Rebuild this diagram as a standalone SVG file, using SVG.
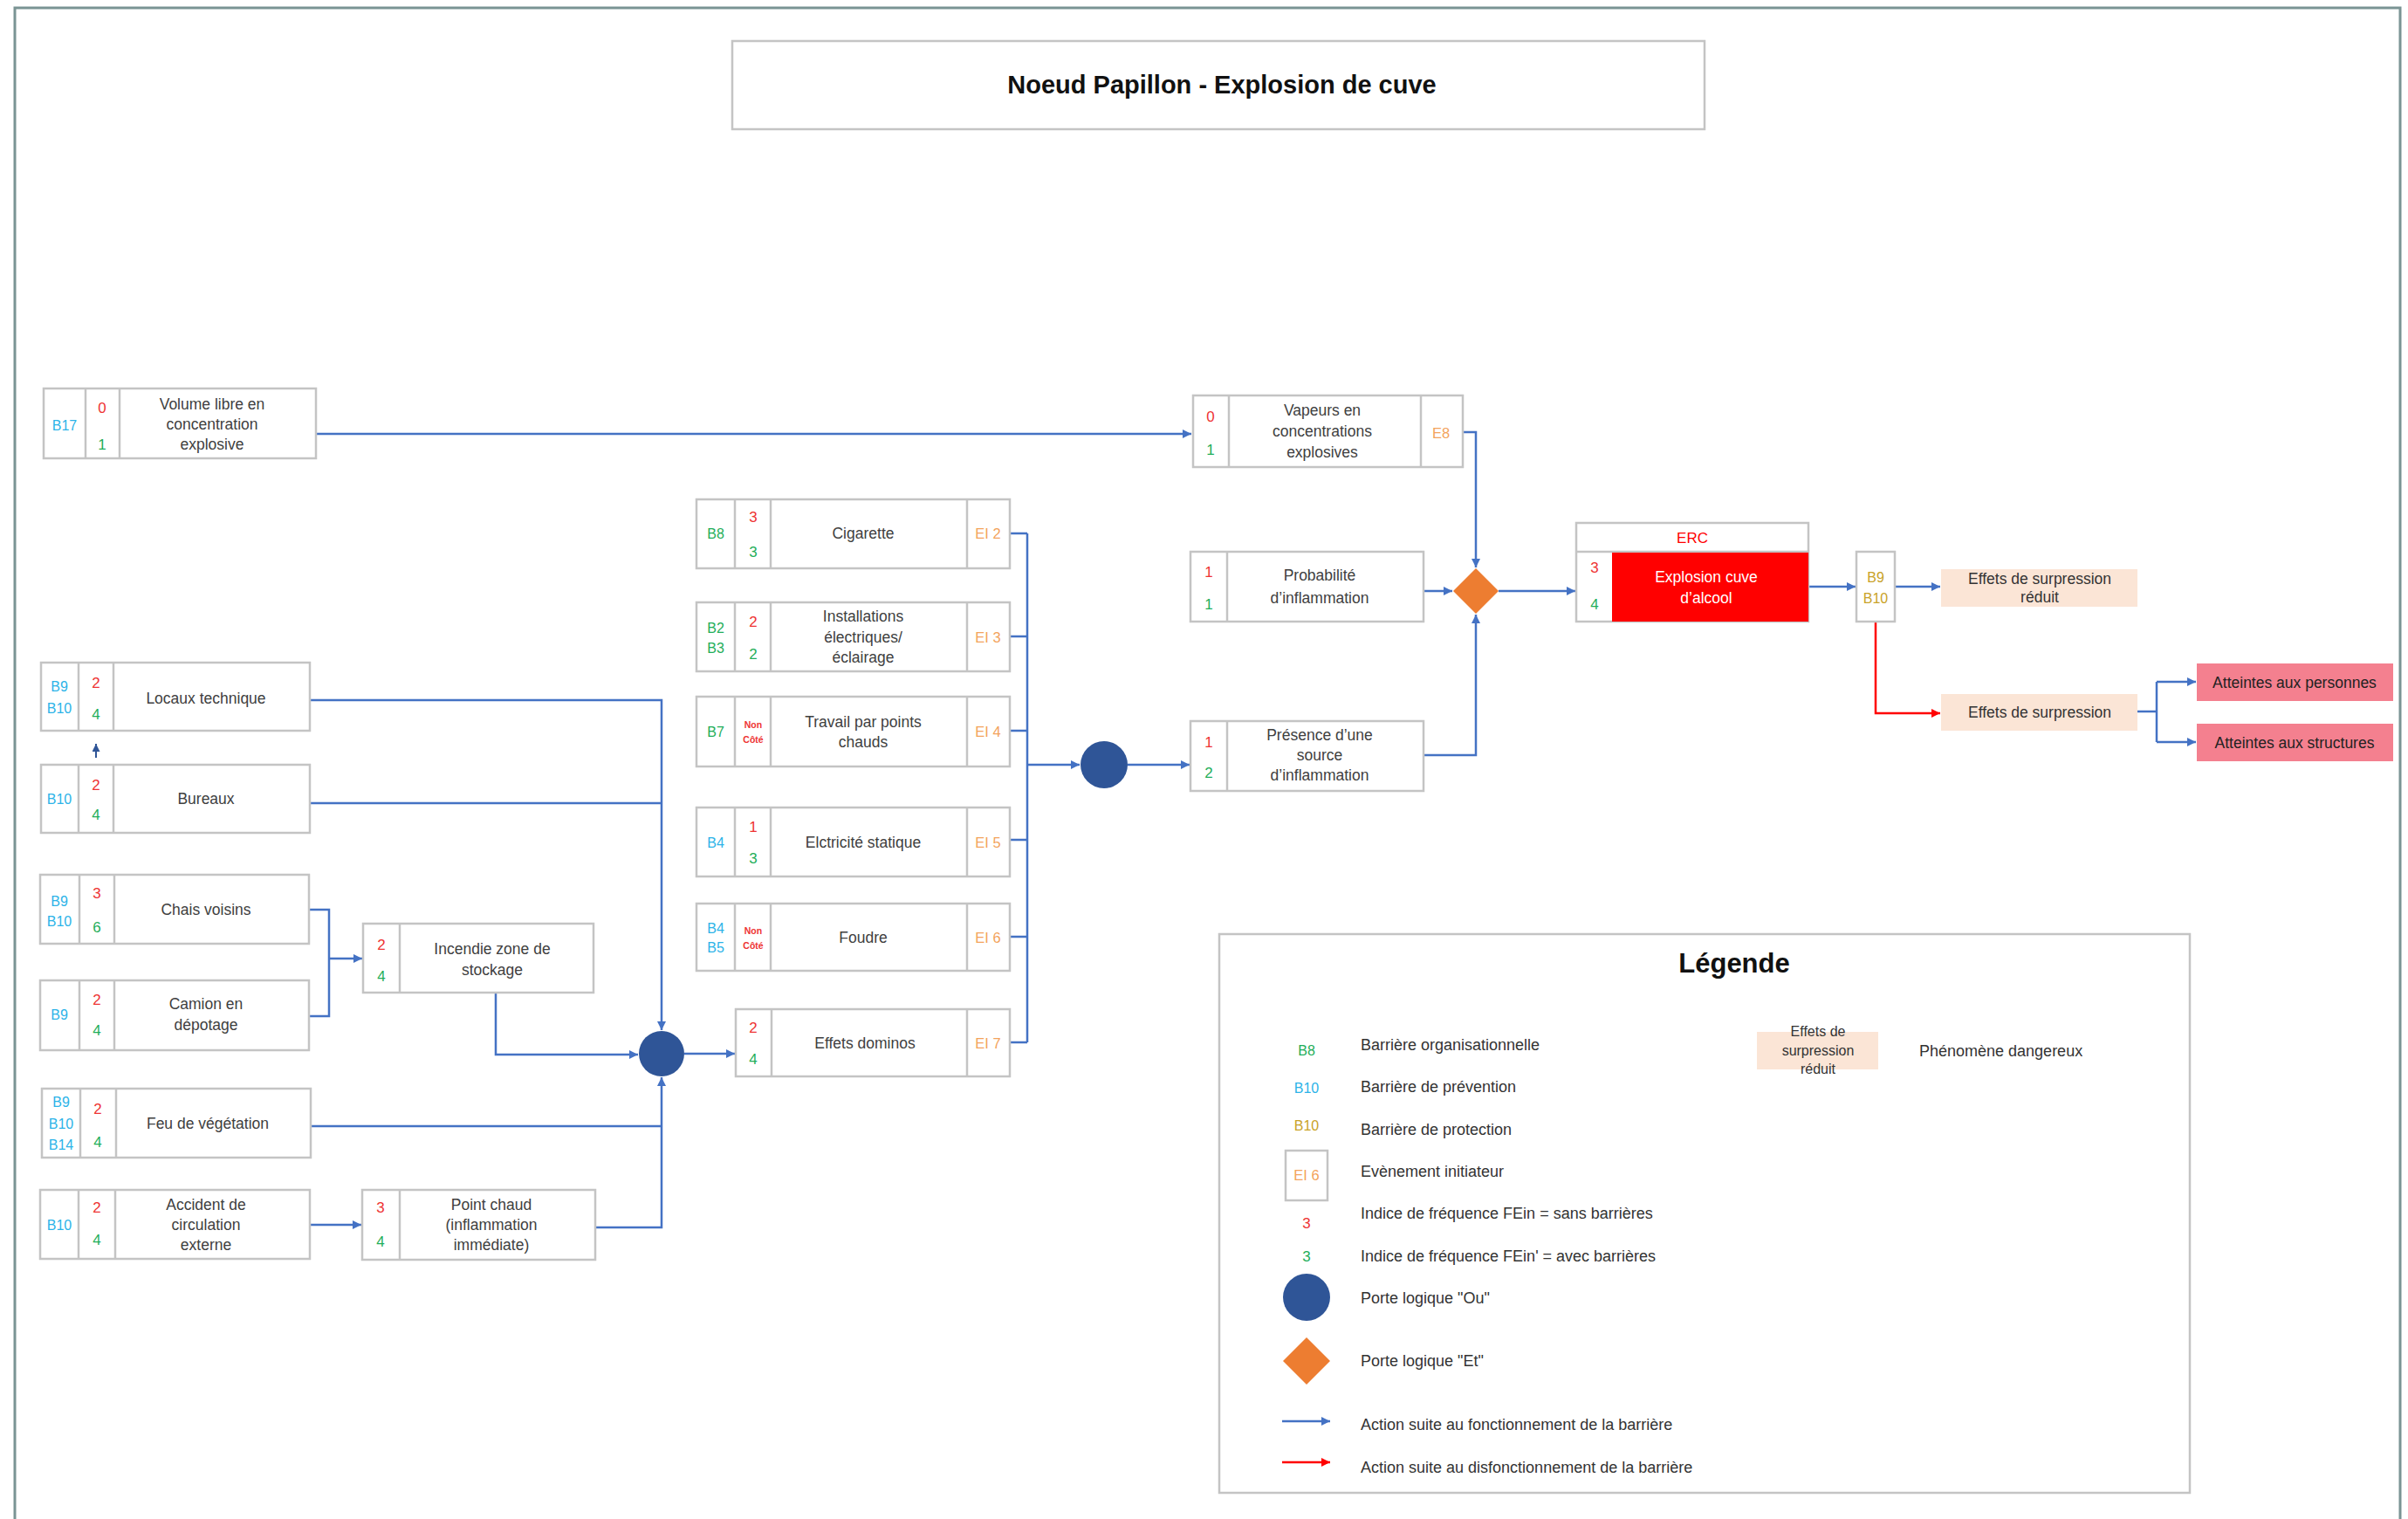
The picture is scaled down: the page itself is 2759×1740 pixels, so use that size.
<svg xmlns="http://www.w3.org/2000/svg" width="2759" height="1740" viewBox="0 0 2759 1740">
<defs>
<style>
text{font-family:"Liberation Sans",Arial,sans-serif;dominant-baseline:central;text-anchor:middle}
.box{fill:#fff;stroke:#c4c4c4;stroke-width:2.5}
.div{stroke:#c4c4c4;stroke-width:2.5}
.lbl{font-size:17.5px;fill:#404040}
.num{font-size:17px}
.red{fill:#ee3333}
.grn{fill:#1fae5a}
.blu{fill:#2cb3e8}
.og{fill:#1fae5a}
.gold{fill:#c9a227}
.ei{font-size:16.5px;fill:#f3a35c}
.bar{font-size:16px}
.nc{font-size:10.5px;font-weight:bold;fill:#ee3333}
.con{fill:none;stroke:#4472c4;stroke-width:2.5}
.conr{fill:none;stroke:#ff0000;stroke-width:2.5}
.or{fill:#2f5597}
.and{fill:#ed7d31}
.peach{fill:#fbe5d6}
.pink{fill:#f4808f}
.leg{font-size:18px;fill:#333;text-anchor:start}
</style>
<marker id="ab" viewBox="0 0 10 10" refX="10" refY="5" markerWidth="11" markerHeight="10" markerUnits="userSpaceOnUse" orient="auto"><path d="M0,0 L10,5 L0,10 z" fill="#4472c4"/></marker>
<marker id="ar" viewBox="0 0 10 10" refX="10" refY="5" markerWidth="11" markerHeight="10" markerUnits="userSpaceOnUse" orient="auto"><path d="M0,0 L10,5 L0,10 z" fill="#ff0000"/></marker>
<marker id="ad" viewBox="0 0 10 10" refX="10" refY="5" markerWidth="10" markerHeight="9" markerUnits="userSpaceOnUse" orient="auto"><path d="M0,0 L10,5 L0,10 z" fill="#2f5597"/></marker>
</defs>
<rect width="2759" height="1740" fill="#fff"/>
<path d="M17,1745 V9 H2750 V1745" fill="none" stroke="#7a9494" stroke-width="3"/>

<g id="title">
<rect x="839" y="47" width="1114" height="101" class="box"/>
<text x="1400" y="97" style="font-size:29px;font-weight:bold;fill:#111">Noeud Papillon - Explosion de cuve</text>
</g>

<g id="connectors">
<path class="con" d="M362,497 H1365" marker-end="url(#ab)"/>
<path class="con" d="M1676,495 H1691 V650" marker-end="url(#ab)"/>
<path class="con" d="M1631,677 H1664" marker-end="url(#ab)"/>
<path class="con" d="M1631,865 H1691 V704" marker-end="url(#ab)"/>
<path class="con" d="M1717,677 H1805" marker-end="url(#ab)"/>
<path class="con" d="M2072,672 H2126" marker-end="url(#ab)"/>
<path class="con" d="M2171,672 H2223" marker-end="url(#ab)"/>
<path class="conr" d="M2149,712 V817 H2223" marker-end="url(#ar)"/>
<path class="con" d="M2449,815 H2471"/>
<path class="con" d="M2471,781 V850"/>
<path class="con" d="M2471,781 H2516" marker-end="url(#ab)"/>
<path class="con" d="M2471,850 H2516" marker-end="url(#ab)"/>
<path class="con" d="M355,802 H758 V1180" marker-end="url(#ab)"/>
<path class="con" d="M355,920 H758"/>
<path class="con" d="M354,1042 H377 V1164 H354"/>
<path class="con" d="M377,1098 H415" marker-end="url(#ab)"/>
<path class="con" d="M568,1137 V1208 H731" marker-end="url(#ab)"/>
<path class="con" d="M356,1290 H758"/>
<path class="con" d="M682,1406 H758 V1234" marker-end="url(#ab)"/>
<path class="con" d="M355,1403 H414" marker-end="url(#ab)"/>
<path class="con" d="M784,1207 H842" marker-end="url(#ab)"/>
<path class="con" d="M1157,611 H1177 M1157,729 H1177 M1157,837 H1177 M1157,962 H1177 M1157,1073 H1177 M1157,1194 H1177 M1177,611 V1194"/>
<path class="con" d="M1177,876 H1237" marker-end="url(#ab)"/>
<path class="con" d="M1292,876 H1363" marker-end="url(#ab)"/>
<path fill="none" stroke="#2f5597" stroke-width="2" d="M110,868 V852" marker-end="url(#ad)"/>
</g>

<g id="n_volume">
<rect x="50" y="445" width="312" height="80" class="box"/>
<line x1="98" y1="445" x2="98" y2="525" class="div"/><line x1="137" y1="445" x2="137" y2="525" class="div"/>
<text x="74" y="487" class="bar blu">B17</text>
<text x="117" y="467" class="num red">0</text><text x="117" y="509" class="num grn">1</text>
<text x="243" y="463" class="lbl">Volume libre en</text><text x="243" y="486" class="lbl">concentration</text><text x="243" y="509" class="lbl">explosive</text>
</g>

<g id="n_locaux">
<rect x="47" y="759" width="308" height="78" class="box"/>
<line x1="90" y1="759" x2="90" y2="837" class="div"/><line x1="130" y1="759" x2="130" y2="837" class="div"/>
<text x="68" y="786" class="bar blu">B9</text><text x="68" y="811" class="bar blu">B10</text>
<text x="110" y="782" class="num red">2</text><text x="110" y="818" class="num grn">4</text>
<text x="236" y="800" class="lbl">Locaux technique</text>
</g>

<g id="n_bureaux">
<rect x="47" y="876" width="308" height="78" class="box"/>
<line x1="90" y1="876" x2="90" y2="954" class="div"/><line x1="130" y1="876" x2="130" y2="954" class="div"/>
<text x="68" y="915" class="bar blu">B10</text>
<text x="110" y="899" class="num red">2</text><text x="110" y="933" class="num grn">4</text>
<text x="236" y="915" class="lbl">Bureaux</text>
</g>

<g id="n_chais">
<rect x="46" y="1002" width="308" height="79" class="box"/>
<line x1="91" y1="1002" x2="91" y2="1081" class="div"/><line x1="131" y1="1002" x2="131" y2="1081" class="div"/>
<text x="68" y="1032" class="bar blu">B9</text><text x="68" y="1055" class="bar blu">B10</text>
<text x="111" y="1023" class="num red">3</text><text x="111" y="1062" class="num grn">6</text>
<text x="236" y="1042" class="lbl">Chais voisins</text>
</g>

<g id="n_camion">
<rect x="46" y="1123" width="308" height="80" class="box"/>
<line x1="91" y1="1123" x2="91" y2="1203" class="div"/><line x1="131" y1="1123" x2="131" y2="1203" class="div"/>
<text x="68" y="1162" class="bar blu">B9</text>
<text x="111" y="1145" class="num red">2</text><text x="111" y="1180" class="num grn">4</text>
<text x="236" y="1150" class="lbl">Camion en</text><text x="236" y="1174" class="lbl">dépotage</text>
</g>

<g id="n_incendie">
<rect x="416" y="1058" width="264" height="79" class="box"/>
<line x1="458" y1="1058" x2="458" y2="1137" class="div"/>
<text x="437" y="1082" class="num red">2</text><text x="437" y="1118" class="num grn">4</text>
<text x="564" y="1087" class="lbl">Incendie zone de</text><text x="564" y="1111" class="lbl">stockage</text>
</g>

<g id="n_feu">
<rect x="48" y="1247" width="308" height="79" class="box"/>
<line x1="92" y1="1247" x2="92" y2="1326" class="div"/><line x1="133" y1="1247" x2="133" y2="1326" class="div"/>
<text x="70" y="1262" class="bar blu">B9</text><text x="70" y="1287" class="bar blu">B10</text><text x="70" y="1311" class="bar blu">B14</text>
<text x="112" y="1270" class="num red">2</text><text x="112" y="1308" class="num grn">4</text>
<text x="238" y="1287" class="lbl">Feu de végétation</text>
</g>

<g id="n_accident">
<rect x="46" y="1363" width="309" height="79" class="box"/>
<line x1="90" y1="1363" x2="90" y2="1442" class="div"/><line x1="132" y1="1363" x2="132" y2="1442" class="div"/>
<text x="68" y="1403" class="bar blu">B10</text>
<text x="111" y="1383" class="num red">2</text><text x="111" y="1420" class="num grn">4</text>
<text x="236" y="1380" class="lbl">Accident de</text><text x="236" y="1403" class="lbl">circulation</text><text x="236" y="1426" class="lbl">externe</text>
</g>

<g id="n_pointchaud">
<rect x="415" y="1363" width="267" height="80" class="box"/>
<line x1="458" y1="1363" x2="458" y2="1443" class="div"/>
<text x="436" y="1383" class="num red">3</text><text x="436" y="1422" class="num grn">4</text>
<text x="563" y="1380" class="lbl">Point chaud</text><text x="563" y="1403" class="lbl">(inflammation</text><text x="563" y="1426" class="lbl">immédiate)</text>
</g>

<g id="g_or1"><circle cx="758" cy="1207" r="26" class="or"/></g>

<g id="n_cigarette">
<rect x="798" y="572" width="359" height="79" class="box"/>
<line x1="842" y1="572" x2="842" y2="651" class="div"/><line x1="883" y1="572" x2="883" y2="651" class="div"/><line x1="1108" y1="572" x2="1108" y2="651" class="div"/>
<text x="820" y="611" class="bar og">B8</text>
<text x="863" y="592" class="num red">3</text><text x="863" y="632" class="num grn">3</text>
<text x="989" y="611" class="lbl">Cigarette</text>
<text x="1132" y="611" class="ei">EI 2</text>
</g>

<g id="n_install">
<rect x="798" y="690" width="359" height="79" class="box"/>
<line x1="842" y1="690" x2="842" y2="769" class="div"/><line x1="883" y1="690" x2="883" y2="769" class="div"/><line x1="1108" y1="690" x2="1108" y2="769" class="div"/>
<text x="820" y="719" class="bar og">B2</text><text x="820" y="742" class="bar og">B3</text>
<text x="863" y="712" class="num red">2</text><text x="863" y="749" class="num grn">2</text>
<text x="989" y="706" class="lbl">Installations</text><text x="989" y="730" class="lbl">électriques/</text><text x="989" y="753" class="lbl">éclairage</text>
<text x="1132" y="730" class="ei">EI 3</text>
</g>

<g id="n_travail">
<rect x="798" y="798" width="359" height="80" class="box"/>
<line x1="842" y1="798" x2="842" y2="878" class="div"/><line x1="883" y1="798" x2="883" y2="878" class="div"/><line x1="1108" y1="798" x2="1108" y2="878" class="div"/>
<text x="820" y="838" class="bar og">B7</text>
<text x="863" y="830" class="nc">Non</text><text x="863" y="847" class="nc">Côté</text>
<text x="989" y="827" class="lbl">Travail par points</text><text x="989" y="850" class="lbl">chauds</text>
<text x="1132" y="838" class="ei">EI 4</text>
</g>

<g id="n_statique">
<rect x="798" y="925" width="359" height="79" class="box"/>
<line x1="842" y1="925" x2="842" y2="1004" class="div"/><line x1="883" y1="925" x2="883" y2="1004" class="div"/><line x1="1108" y1="925" x2="1108" y2="1004" class="div"/>
<text x="820" y="965" class="bar blu">B4</text>
<text x="863" y="947" class="num red">1</text><text x="863" y="983" class="num grn">3</text>
<text x="989" y="965" class="lbl">Elctricité statique</text>
<text x="1132" y="965" class="ei">EI 5</text>
</g>

<g id="n_foudre">
<rect x="798" y="1035" width="359" height="77" class="box"/>
<line x1="842" y1="1035" x2="842" y2="1112" class="div"/><line x1="883" y1="1035" x2="883" y2="1112" class="div"/><line x1="1108" y1="1035" x2="1108" y2="1112" class="div"/>
<text x="820" y="1063" class="bar blu">B4</text><text x="820" y="1085" class="bar blu">B5</text>
<text x="863" y="1066" class="nc">Non</text><text x="863" y="1083" class="nc">Côté</text>
<text x="989" y="1074" class="lbl">Foudre</text>
<text x="1132" y="1074" class="ei">EI 6</text>
</g>

<g id="n_dominos">
<rect x="843" y="1156" width="314" height="77" class="box"/>
<line x1="884" y1="1156" x2="884" y2="1233" class="div"/><line x1="1108" y1="1156" x2="1108" y2="1233" class="div"/>
<text x="863" y="1177" class="num red">2</text><text x="863" y="1213" class="num grn">4</text>
<text x="991" y="1195" class="lbl">Effets dominos</text>
<text x="1132" y="1195" class="ei">EI 7</text>
</g>

<g id="g_or2"><circle cx="1265" cy="876" r="27" class="or"/></g>

<g id="n_vapeurs">
<rect x="1367" y="453" width="309" height="82" class="box"/>
<line x1="1408" y1="453" x2="1408" y2="535" class="div"/><line x1="1628" y1="453" x2="1628" y2="535" class="div"/>
<text x="1387" y="477" class="num red">0</text><text x="1387" y="515" class="num grn">1</text>
<text x="1515" y="470" class="lbl">Vapeurs en</text><text x="1515" y="494" class="lbl">concentrations</text><text x="1515" y="518" class="lbl">explosives</text>
<text x="1651" y="496" class="ei">E8</text>
</g>

<g id="n_proba">
<rect x="1364" y="632" width="267" height="80" class="box"/>
<line x1="1406" y1="632" x2="1406" y2="712" class="div"/>
<text x="1385" y="655" class="num red">1</text><text x="1385" y="692" class="num grn">1</text>
<text x="1512" y="659" class="lbl">Probabilité</text><text x="1512" y="685" class="lbl">d’inflammation</text>
</g>

<g id="n_presence">
<rect x="1364" y="826" width="267" height="80" class="box"/>
<line x1="1406" y1="826" x2="1406" y2="906" class="div"/>
<text x="1385" y="850" class="num red">1</text><text x="1385" y="885" class="num grn">2</text>
<text x="1512" y="842" class="lbl">Présence d’une</text><text x="1512" y="865" class="lbl">source</text><text x="1512" y="888" class="lbl">d’inflammation</text>
</g>

<g id="g_and"><path d="M1691,651 L1717,677 L1691,703 L1665,677 z" class="and"/></g>

<g id="n_erc">
<rect x="1806" y="599" width="266" height="113" class="box"/>
<line x1="1806" y1="632" x2="2072" y2="632" class="div"/>
<rect x="1847" y="633" width="225" height="79" fill="#ff0000"/>
<text x="1939" y="616" class="num" style="fill:#ff0000">ERC</text>
<text x="1827" y="650" class="num red">3</text><text x="1827" y="692" class="num grn">4</text>
<text x="1955" y="661" class="lbl" style="fill:#fff">Explosion cuve</text><text x="1955" y="685" class="lbl" style="fill:#fff">d’alcool</text>
</g>

<g id="n_barrier">
<rect x="2127" y="632" width="44" height="80" class="box"/>
<text x="2149" y="661" class="bar gold">B9</text><text x="2149" y="685" class="bar gold">B10</text>
</g>

<g id="n_reduit">
<rect x="2224" y="652" width="225" height="43" class="peach"/>
<text x="2337" y="663" class="lbl" style="fill:#333">Effets de surpression</text><text x="2337" y="684" class="lbl" style="fill:#333">réduit</text>
</g>

<g id="n_surpression">
<rect x="2224" y="795" width="225" height="42" class="peach"/>
<text x="2337" y="816" class="lbl" style="fill:#333">Effets de surpression</text>
</g>

<g id="n_personnes">
<rect x="2517" y="760" width="225" height="43" class="pink"/>
<text x="2629" y="782" class="lbl" style="fill:#222">Atteintes aux personnes</text>
</g>

<g id="n_structures">
<rect x="2517" y="829" width="225" height="43" class="pink"/>
<text x="2629" y="851" class="lbl" style="fill:#222">Atteintes aux structures</text>
</g>

<g id="legend">
<rect x="1397" y="1070" width="1112" height="640" class="box"/>
<text x="1987" y="1103" style="font-size:31px;font-weight:bold;fill:#111">Légende</text>
<text x="1497" y="1203" class="bar og">B8</text><text x="1559" y="1197" class="leg">Barrière organisationnelle</text>
<text x="1497" y="1246" class="bar blu">B10</text><text x="1559" y="1245" class="leg">Barrière de prévention</text>
<text x="1497" y="1289" class="bar gold">B10</text><text x="1559" y="1294" class="leg">Barrière de protection</text>
<rect x="1473" y="1318" width="48" height="57" class="box"/>
<text x="1497" y="1346" class="ei">EI 6</text><text x="1559" y="1342" class="leg">Evènement initiateur</text>
<text x="1497" y="1401" class="num red">3</text><text x="1559" y="1390" class="leg">Indice de fréquence FEin = sans barrières</text>
<text x="1497" y="1439" class="num grn">3</text><text x="1559" y="1439" class="leg">Indice de fréquence FEin' = avec barrières</text>
<circle cx="1497" cy="1486" r="27" class="or"/><text x="1559" y="1487" class="leg">Porte logique "Ou"</text>
<path d="M1497,1532 L1524,1559 L1497,1586 L1470,1559 z" class="and"/><text x="1559" y="1559" class="leg">Porte logique "Et"</text>
<path class="con" d="M1469,1628 H1524" marker-end="url(#ab)"/><text x="1559" y="1632" class="leg">Action suite au fonctionnement de la barrière</text>
<path class="conr" d="M1469,1675 H1524" marker-end="url(#ar)"/><text x="1559" y="1681" class="leg">Action suite au disfonctionnement de la barrière</text>
<rect x="2013" y="1182" width="139" height="43" class="peach"/>
<text x="2083" y="1181" style="font-size:16px;fill:#333">Effets de</text><text x="2083" y="1203" style="font-size:16px;fill:#333">surpression</text><text x="2083" y="1224" style="font-size:16px;fill:#333">réduit</text>
<text x="2199" y="1204" class="leg">Phénomène dangereux</text>
</g>
</svg>
